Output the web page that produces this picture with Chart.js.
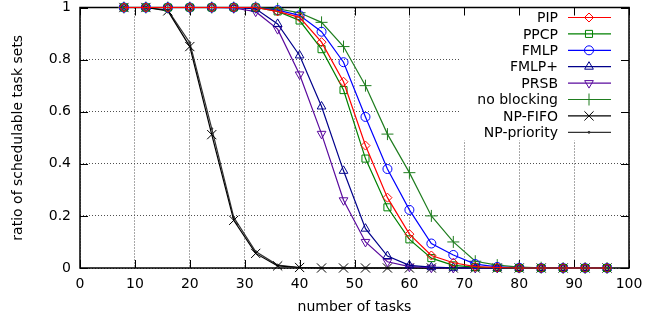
<!DOCTYPE html>
<html>
<head>
<meta charset="utf-8">
<script src="https://cdn.jsdelivr.net/npm/chart.js@4/dist/chart.umd.min.js"></script>
<style>
  html, body { margin: 0; padding: 0; background: #fff; }
  #wrap { width: 656px; height: 321px; }
</style>
</head>
<body>
<div id="wrap"><canvas id="schedChart"></canvas></div>
<script>
const tasks = [8, 12, 16, 20, 24, 28, 32, 36, 40, 44, 48, 52, 56, 60, 64, 68, 72, 76, 80, 84, 88, 92, 96];

const pip        = [1, 1, 1, 1, 1, 1, 1, 0.985, 0.962, 0.867, 0.715, 0.47, 0.27, 0.13, 0.048, 0.02, 0.005, 0.002, 0, 0, 0, 0, 0];
const ppcp       = [1, 1, 1, 1, 1, 1, 1, 0.985, 0.95, 0.84, 0.683, 0.42, 0.233, 0.11, 0.038, 0.01, 0.003, 0.001, 0, 0, 0, 0, 0];
const fmlp       = [1, 1, 1, 1, 1, 1, 1, 0.99, 0.97, 0.907, 0.79, 0.58, 0.38, 0.223, 0.094, 0.05, 0.015, 0.004, 0.001, 0, 0, 0, 0];
const fmlpPlus   = [1, 1, 1, 1, 1, 1, 0.995, 0.937, 0.816, 0.62, 0.373, 0.151, 0.046, 0.01, 0.003, 0.001, 0, 0, 0, 0, 0, 0, 0];
const prsb       = [1, 1, 1, 1, 1, 0.998, 0.984, 0.917, 0.743, 0.515, 0.26, 0.1, 0.024, 0.005, 0.001, 0, 0, 0, 0, 0, 0, 0, 0];
const noBlocking = [1, 1, 1, 1, 1, 1, 1, 0.995, 0.98, 0.943, 0.85, 0.7, 0.514, 0.366, 0.2, 0.1, 0.026, 0.011, 0.003, 0.001, 0, 0, 0];
const npFifo     = [1, 1, 0.987, 0.85, 0.512, 0.183, 0.056, 0.008, 0.002, 0, 0, 0, 0, 0, 0, 0, 0, 0, 0, 0, 0, 0, 0];
const npPriority = [1, 1, 0.99, 0.865, 0.535, 0.195, 0.063, 0.011, 0.002, 0, 0, 0, 0, 0, 0, 0, 0, 0, 0, 0, 0, 0, 0];

const FONT = 'DejaVu Sans';

const series = [
  { label: 'PIP',          data: pip,        color: '#ff0000', style: 'rectRot',  r: 4.5 },
  { label: 'PPCP',         data: ppcp,       color: '#008000', style: 'rect',     r: 5 },
  { label: 'FMLP',         data: fmlp,       color: '#0000ff', style: 'circle',   r: 4.5 },
  { label: 'FMLP+',        data: fmlpPlus,   color: '#00008b', style: 'triangle', r: 5 },
  { label: 'PRSB',         data: prsb,       color: '#5a0a9e', style: 'triangle', r: 5, rot: 180 },
  { label: 'no blocking',  data: noBlocking, color: '#1f7d1f', style: 'cross',    r: 6 },
  { label: 'NP-FIFO',      data: npFifo,     color: '#000000', style: 'crossRot', r: 6.5 },
  { label: 'NP-priority',  data: npPriority, color: '#333333', style: 'circle',   r: 1, fill: true }
];

const datasets = series.map(s => ({
  label: s.label,
  data: s.data.map((v, i) => ({ x: tasks[i], y: v })),
  borderColor: s.color,
  backgroundColor: s.color,
  borderWidth: 1.2,
  pointStyle: s.style,
  pointRadius: s.r,
  pointRotation: s.rot || 0,
  pointBorderColor: s.color,
  pointBackgroundColor: s.fill ? s.color : 'rgba(0,0,0,0)',
  pointBorderWidth: 1,
  tension: 0,
  clip: false
}));

// white legend box over the grid, then frame with inward ticks
const framePlugin = {
  id: 'frame',
  beforeDatasetsDraw(chart) {
    const { ctx, chartArea: a, scales } = chart;
    ctx.save();
    ctx.fillStyle = '#fff';
    ctx.fillRect(a.right - 170, a.top, 170, 133);

    ctx.strokeStyle = '#000';
    ctx.lineWidth = 1;
    ctx.beginPath();
    scales.x.ticks.forEach(t => {
      const px = Math.round(scales.x.getPixelForValue(t.value)) + 0.5;
      ctx.moveTo(px, a.bottom); ctx.lineTo(px, a.bottom - 8);
      ctx.moveTo(px, a.top); ctx.lineTo(px, a.top + 8);
    });
    scales.y.ticks.forEach(t => {
      const py = Math.round(scales.y.getPixelForValue(t.value)) + 0.5;
      ctx.moveTo(a.left, py); ctx.lineTo(a.left + 8, py);
      ctx.moveTo(a.right, py); ctx.lineTo(a.right - 8, py);
    });
    ctx.stroke();

    ctx.lineWidth = 1.5;
    ctx.strokeRect(a.left, a.top, a.right - a.left, a.bottom - a.top);
    ctx.restore();
  },
  afterDatasetsDraw(chart) {
    const { ctx, chartArea: a } = chart;
    ctx.save();
    ctx.font = '14px "' + FONT + '"';
    ctx.textAlign = 'right';
    ctx.textBaseline = 'middle';
    chart.data.datasets.forEach((ds, i) => {
      const y = a.top + 10 + i * 16.4;
      ctx.fillStyle = '#000';
      ctx.fillText(ds.label, a.right - 71, y + 1);
      ctx.strokeStyle = ds.borderColor;
      ctx.lineWidth = 1.2;
      ctx.beginPath();
      ctx.moveTo(a.right - 61, y);
      ctx.lineTo(a.right - 18, y);
      ctx.stroke();
      ctx.lineWidth = 1;
      ctx.fillStyle = ds.pointBackgroundColor;
      Chart.helpers.drawPoint(ctx, {
        pointStyle: ds.pointStyle,
        radius: ds.pointRadius,
        rotation: ds.pointRotation,
        borderWidth: 1
      }, a.right - 40, y);
    });
    ctx.restore();
  }
};

new Chart(document.getElementById('schedChart'), {
  type: 'line',
  data: { datasets },
  options: {
    responsive: true,
    maintainAspectRatio: false,
    animation: false,
    layout: { padding: { top: 5, right: 27, left: 0, bottom: 0 } },
    plugins: {
      legend: { display: false },
      tooltip: { enabled: false }
    },
    scales: {
      x: {
        type: 'linear',
        min: 0,
        max: 100,
        ticks: { stepSize: 10, padding: 8, color: '#000', font: { family: FONT, size: 14 } },
        grid: { color: '#505050', lineWidth: 1, drawTicks: false },
        border: { display: false, dash: [1, 2] },
        title: { display: true, text: 'number of tasks', color: '#000', font: { family: FONT, size: 14 }, padding: { top: 0, bottom: 5 } },
        afterFit(s) { s.height = 53; s.paddingLeft = 0; s.paddingRight = 0; }
      },
      y: {
        min: 0,
        max: 1,
        ticks: {
          stepSize: 0.2, padding: 9, color: '#000', font: { family: FONT, size: 14 },
          callback: v => String(+v.toFixed(1))
        },
        grid: { color: '#505050', lineWidth: 1, drawTicks: false },
        border: { display: false, dash: [1, 2] },
        title: { display: true, text: 'ratio of schedulable task sets', color: '#000', font: { family: FONT, size: 14 }, padding: { top: 10, bottom: 0 } },
        afterFit(s) { s.width = 80; s.paddingTop = 0; s.paddingBottom = 0; }
      }
    }
  },
  plugins: [framePlugin]
});
</script>
</body>
</html>
